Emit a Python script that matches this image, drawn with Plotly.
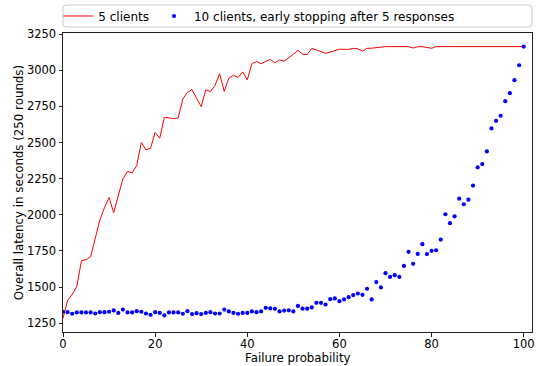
import plotly.graph_objects as go

failure_prob = list(range(0, 101))

latency_5_clients = [
    1285, 1408, 1450, 1505, 1683, 1690, 1710, 1845, 1965, 2050,
    2120, 2015, 2135, 2248, 2300, 2290, 2340, 2500, 2450, 2460,
    2570, 2530, 2675, 2670, 2665, 2670, 2800, 2847, 2865, 2805,
    2748, 2865, 2852, 2895, 2975, 2854, 2945, 2965, 2950, 2988,
    2933, 3045, 3060, 3045, 3060, 3075, 3050, 3071, 3062, 3084,
    3110, 3137, 3110, 3108, 3150, 3140, 3130, 3117, 3125, 3135,
    3145, 3144, 3144, 3151, 3148, 3132, 3151, 3152, 3157, 3163,
    3163, 3163, 3163, 3163, 3163, 3163, 3153, 3162, 3163, 3156,
    3151, 3163, 3163, 3163, 3163, 3163, 3163, 3163, 3163, 3163,
    3163, 3163, 3163, 3163, 3163, 3163, 3163, 3163, 3163, 3163,
    3163,
]

latency_10_clients_es = [
    1330, 1327, 1316, 1325, 1325, 1325, 1325, 1318, 1327, 1327,
    1330, 1339, 1322, 1345, 1325, 1325, 1334, 1330, 1318, 1309,
    1327, 1322, 1305, 1325, 1325, 1325, 1316, 1334, 1314, 1320,
    1314, 1322, 1327, 1318, 1318, 1345, 1332, 1322, 1316, 1322,
    1322, 1332, 1327, 1332, 1357, 1353, 1350, 1332, 1338, 1340,
    1332, 1370, 1351, 1351, 1360, 1392, 1392, 1380, 1417, 1422,
    1403, 1415, 1431, 1445, 1456, 1447, 1489, 1415, 1535, 1498,
    1597, 1571, 1583, 1571, 1647, 1744, 1661, 1730, 1797, 1729,
    1751, 1755, 1829, 2004, 1942, 1990, 2112, 2073, 2105, 2202,
    2328, 2351, 2438, 2597, 2650, 2685, 2786, 2841, 2931, 3034,
    3163,
]

x_ticks = [0, 20, 40, 60, 80, 100]
y_ticks = [1250, 1500, 1750, 2000, 2250, 2500, 2750, 3000, 3250]

FONT = "DejaVu Sans"
TICK_SIZE = 11.5
TITLE_SIZE = 11.8
LEGEND_SIZE = 12

fig = go.Figure()
fig.add_trace(go.Scatter(
    x=failure_prob, y=latency_5_clients, mode="lines",
    name="5 clients", line=dict(color="#ff0000", width=1),
))
fig.add_trace(go.Scatter(
    x=failure_prob, y=latency_10_clients_es, mode="markers",
    name="10 clients, early stopping after 5 responses",
    marker=dict(color="#0000ff", size=4.2, line=dict(width=0)),
))

axis_common = dict(
    showgrid=False, zeroline=False, showline=True, mirror=True,
    linecolor="#222222", linewidth=1, ticks="outside", ticklen=3.5,
    tickcolor="#222222", tickwidth=1, automargin=False,
    tickfont=dict(family=FONT, size=TICK_SIZE, color="#000000"),
)

fig.update_xaxes(range=[0, 101.8], tickvals=x_ticks, ticklabelstandoff=-2, **axis_common)
fig.update_yaxes(range=[1190, 3257], tickvals=y_ticks, **axis_common)

# axis titles
fig.add_annotation(
    text="Failure probability", xref="paper", yref="paper", x=0.5, y=-0.086,
    xanchor="center", yanchor="middle", showarrow=False,
    font=dict(family=FONT, size=TITLE_SIZE, color="#000000"),
)
fig.add_annotation(
    text="Overall latency in seconds (250 rounds)", xref="paper", yref="paper",
    x=-0.0944, y=0.5, xanchor="center", yanchor="middle", showarrow=False,
    textangle=-90,
    font=dict(family=FONT, size=TITLE_SIZE, color="#000000"),
)

# legend frame (rounded box spanning the axes width)
x0, x1 = 0.0, 1.0
y0, y1 = 1.0201, 1.0936
rx, ry = 0.0064, 0.01
path = (f"M {x0+rx},{y0} L {x1-rx},{y0} Q {x1},{y0} {x1},{y0+ry} "
        f"L {x1},{y1-ry} Q {x1},{y1} {x1-rx},{y1} L {x0+rx},{y1} "
        f"Q {x0},{y1} {x0},{y1-ry} L {x0},{y0+ry} Q {x0},{y0} {x0+rx},{y0} Z")
fig.add_shape(type="path", path=path, xref="paper", yref="paper",
              line=dict(color="#cccccc", width=1), fillcolor="white", layer="below")

fig.update_layout(
    width=544, height=366,
    margin=dict(l=63, r=12, t=33, b=34, autoexpand=False),
    paper_bgcolor="white", plot_bgcolor="white",
    font=dict(family=FONT, size=TICK_SIZE, color="#000000"),
    showlegend=True,
    legend=dict(
        orientation="h", x=-0.01, xanchor="left", y=1.0569, yanchor="middle",
        bgcolor="rgba(0,0,0,0)", borderwidth=0,
        font=dict(family=FONT, size=LEGEND_SIZE, color="#000000"),
    ),
)

fig.write_html("out.html")
